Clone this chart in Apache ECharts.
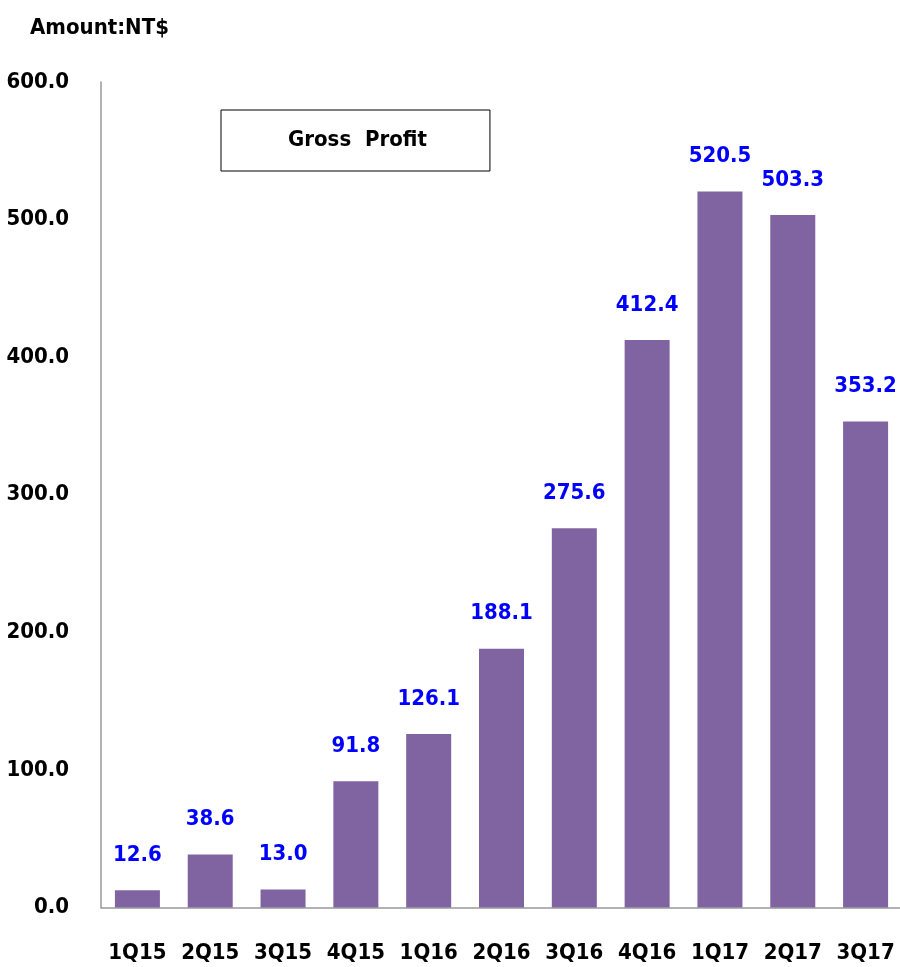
<!DOCTYPE html>
<html>
<head>
<meta charset="utf-8">
<script src="https://cdn.jsdelivr.net/npm/echarts@6/dist/echarts.min.js"></script>
<style>html,body{margin:0;padding:0;background:#fff;}#chart{width:900px;height:967px;}</style>
</head>
<body>
<div id="chart"></div>
<script>
const categories = ['1Q15','2Q15','3Q15','4Q15','1Q16','2Q16','3Q16','4Q16','1Q17','2Q17','3Q17'];
const grossProfit = [12.6, 38.6, 13.0, 91.8, 126.1, 188.1, 275.6, 412.4, 520.5, 503.3, 353.2];
const seriesName = 'Gross  Profit';
const unitLabel = 'Amount:NT$';

const FONT = "'DejaVu Sans Condensed', 'DejaVu Sans', sans-serif";
const FS = 22;
const chart = echarts.init(document.getElementById('chart'));
chart.setOption({
  backgroundColor: '#ffffff',
  animation: false,
  textStyle: { fontFamily: FONT },
  title: {
    text: unitLabel, left: 30, top: 17, padding: 0,
    textStyle: { fontFamily: FONT, fontSize: FS, fontWeight: 'bold', color: '#000' }
  },
  legend: {
    data: [seriesName], icon: 'none', itemWidth: 0, itemHeight: 0,
    left: 221, top: 110,
    padding: [19, 63, 20, 62],
    borderColor: '#000', borderWidth: 1,
    selectedMode: false,
    textStyle: { fontFamily: FONT, fontSize: FS, fontWeight: 'bold', color: '#000' }
  },
  grid: { left: 101, right: -2, top: 82, bottom: 59.5, containLabel: false, outerBoundsMode: 'none' },
  xAxis: {
    type: 'category', data: categories,
    axisLine: { show: true, lineStyle: { color: '#999', width: 1.5 } },
    axisTick: { show: false },
    axisLabel: { interval: 0, margin: 35, fontFamily: FONT, fontSize: FS, fontWeight: 'bold', color: '#000' }
  },
  yAxis: {
    type: 'value', min: 0, max: 600, interval: 100,
    axisLine: { show: true, lineStyle: { color: '#999', width: 1.5 } },
    axisTick: { show: false },
    splitLine: { show: false },
    axisLabel: { margin: 32, fontFamily: FONT, fontSize: FS, fontWeight: 'bold', color: '#000',
      formatter: v => v.toFixed(1) }
  },
  series: [{
    name: seriesName, type: 'bar', data: grossProfit, barWidth: 45,
    itemStyle: { color: '#8064A2' },
    label: { show: true, position: 'top', distance: 24,
      fontFamily: FONT, fontSize: FS, fontWeight: 'bold', color: '#0000FF',
      formatter: p => p.value.toFixed(1) }
  }]
});
</script>
</body>
</html>
